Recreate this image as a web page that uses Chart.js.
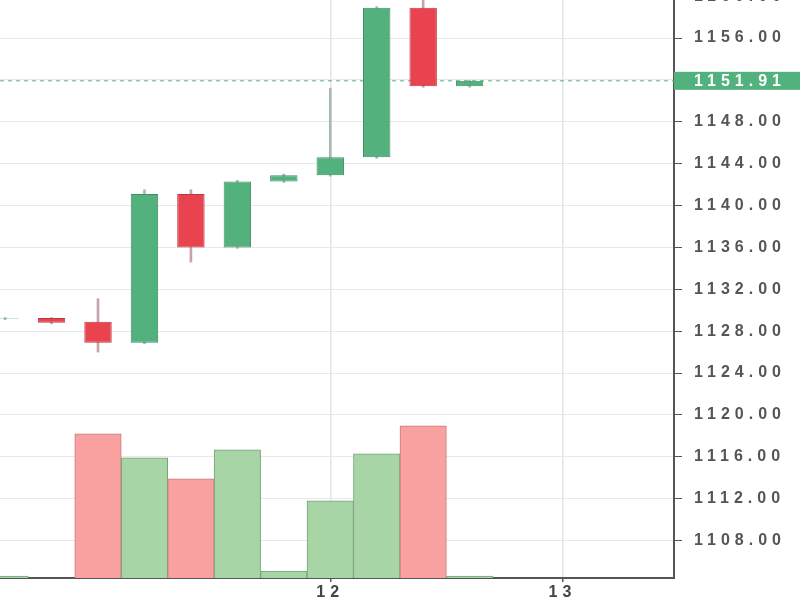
<!DOCTYPE html>
<html>
<head>
<meta charset="utf-8">
<script src="https://cdn.jsdelivr.net/npm/chart.js@4.4.0/dist/chart.umd.min.js"></script>
<style>
  body { margin: 0; background: #fff; }
  #wrap { width: 800px; height: 600px; }
</style>
</head>
<body>
<div id="wrap"><canvas id="candles"></canvas></div>
<script>
// one slot per candle, x = index
const slots  = [0, 1, 2, 3, 4, 5, 6, 7, 8, 9, 10];
const opens  = [1129.2, 1129.25, 1128.9, 1126.9, 1141.1, 1136.0, 1142.3, 1142.9, 1144.6, 1158.9, 1151.4];
const closes = [1129.25, 1128.8, 1126.9, 1141.1, 1136.0, 1142.3, 1142.9, 1144.6, 1158.9, 1151.4, 1151.91];
const highs  = [1129.3, 1129.3, 1131.1, 1141.5, 1141.5, 1142.4, 1143.0, 1151.2, 1159.0, 1160.5, 1151.95];
const lows   = [1129.1, 1128.7, 1126.0, 1126.8, 1134.6, 1135.9, 1142.2, 1142.8, 1144.5, 1151.3, 1151.3];
const volumes = [2, 0, 144, 120, 99, 128, 7, 77, 124, 152, 2];

const dayTicks  = [7, 12];
const dayLabels = ['12', '13'];
const priceTicks = [1108, 1112, 1116, 1120, 1124, 1128, 1132, 1136, 1140, 1144, 1148, 1152, 1156, 1160];

const UP = '#53b17d', UP_EDGE = '#3f8f62';
const DOWN = '#e8434f', DOWN_EDGE = '#b83a45';
const isUp = slots.map(i => closes[i] >= opens[i]);
const lastPrice = closes[closes.length - 1];

const spacing = {
    id: 'spacing',
    beforeUpdate(chart) { chart.ctx.letterSpacing = '5px'; },
    beforeDraw(chart) { chart.ctx.letterSpacing = '5px'; }
};

const lastLine = {
    id: 'lastLine',
    beforeDatasetsDraw(chart) {
        const {ctx, chartArea} = chart;
        const y = chart.scales.y.getPixelForValue(lastPrice);
        ctx.save();
        ctx.strokeStyle = UP;
        ctx.lineWidth = 1;
        ctx.setLineDash([4, 4]);
        ctx.beginPath();
        ctx.moveTo(chartArea.left, y);
        ctx.lineTo(chartArea.right, y);
        ctx.stroke();
        ctx.restore();
    },
    afterDraw(chart) {
        const {ctx, chartArea} = chart;
        const y = chart.scales.y.getPixelForValue(lastPrice);
        ctx.save();
        ctx.fillStyle = UP;
        ctx.fillRect(chartArea.right, y - 9, chart.width - chartArea.right, 18);
        ctx.fillStyle = '#fff';
        ctx.font = 'bold 16px "Liberation Sans", Arial, sans-serif';
        ctx.letterSpacing = '5px';
        ctx.textBaseline = 'middle';
        ctx.fillText(lastPrice.toFixed(2), chartArea.right + 20, y + 1);
        ctx.restore();
    }
};

new Chart(document.getElementById('candles'), {
    type: 'bar',
    data: {
        datasets: [
            {
                label: 'body',
                order: 1,
                yAxisID: 'y',
                data: slots.map(i => ({x: i, y: [opens[i], closes[i]]})),
                backgroundColor: slots.map(i => isUp[i] ? UP : DOWN),
                borderColor: slots.map(i => isUp[i] ? UP_EDGE : DOWN_EDGE),
                borderWidth: 1,
                borderSkipped: false,
                barPercentage: 0.59,
                categoryPercentage: 1,
                grouped: false
            },
            {
                label: 'wick',
                order: 2,
                yAxisID: 'y',
                data: slots.map(i => ({x: i, y: [lows[i], highs[i]]})),
                backgroundColor: slots.map(i => isUp[i] ? '#a9b8b6' : '#c6a3aa'),
                barThickness: 2,
                grouped: false
            },
            {
                label: 'volume',
                order: 3,
                yAxisID: 'vol',
                data: slots.map(i => ({x: i, y: volumes[i]})),
                backgroundColor: slots.map(i => isUp[i] ? '#a7d5a5' : '#f9a0a0'),
                borderColor: slots.map(i => isUp[i] ? '#77a277' : '#cc7a7a'),
                borderWidth: 1,
                barPercentage: 1,
                categoryPercentage: 1,
                grouped: false
            }
        ]
    },
    options: {
        responsive: true,
        maintainAspectRatio: false,
        animation: false,
        layout: { padding: 0 },
        plugins: {
            legend: { display: false },
            tooltip: { enabled: false }
        },
        scales: {
            x: {
                type: 'linear',
                min: -0.11,
                max: 14.4,
                offset: false,
                afterBuildTicks(scale) { scale.ticks = dayTicks.map(v => ({value: v})); },
                afterFit(scale) {
                    scale.height = 22;
                    scale.paddingLeft = 0;
                    scale.paddingRight = 0;
                },
                ticks: {
                    color: '#444',
                    font: { family: '"Liberation Sans", Arial, sans-serif', size: 16, weight: 'bold' },
                    padding: 1,
                    maxRotation: 0,
                    callback: v => dayLabels[dayTicks.indexOf(v)]
                },
                grid: { color: '#dfe5ea', lineWidth: 1.5, offset: false, tickLength: 4, tickColor: '#555' },
                border: { display: true, color: '#555', width: 2 }
            },
            y: {
                position: 'right',
                min: 1104.42,
                max: 1159.63,
                afterBuildTicks(scale) { scale.ticks = priceTicks.map(v => ({value: v})); },
                afterFit(scale) {
                    scale.width = 126;
                    scale.paddingTop = 0;
                    scale.paddingBottom = 0;
                },
                ticks: {
                    color: '#555',
                    font: { family: '"Liberation Sans", Arial, sans-serif', size: 16, weight: 'bold' },
                    padding: 12,
                    callback: v => v.toFixed(2)
                },
                grid: { color: '#e8e8e8', lineWidth: 1, tickLength: 8, tickColor: '#555' },
                border: { display: true, color: '#555', width: 2 }
            },
            vol: {
                display: false,
                min: 0,
                max: Math.max(...volumes) * 3.8
            }
        }
    },
    plugins: [spacing, lastLine]
});
</script>
</body>
</html>
